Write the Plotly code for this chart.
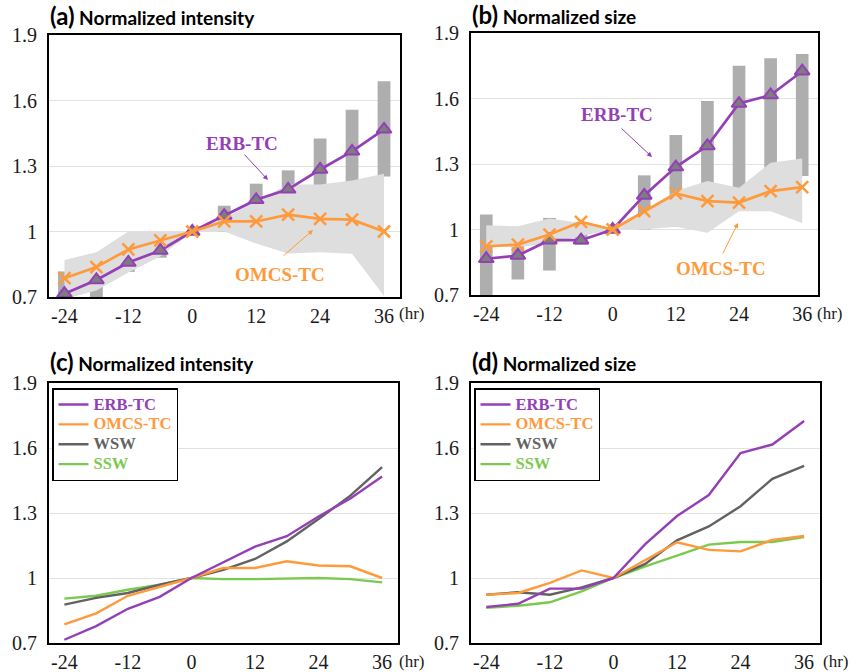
import plotly.graph_objects as go

hours = [-24, -18, -12, -6, 0, 6, 12, 18, 24, 30, 36]
tick_hours = [-24, -12, 0, 12, 24, 36]
tick_hour_labels = ["-24", "-12", "0", "12", "24", "36"]
y_ticks = [0.7, 1.0, 1.3, 1.6, 1.9]
y_tick_labels = ["0.7", "1", "1.3", "1.6", "1.9"]

# intensity
erb_int = [0.715, 0.778, 0.858, 0.913, 1.0, 1.073, 1.145, 1.193, 1.284, 1.367, 1.468]
omcs_int = [0.786, 0.837, 0.918, 0.959, 1.0, 1.046, 1.046, 1.077, 1.058, 1.054, 1.0]
wsw_int = [0.877, 0.908, 0.931, 0.969, 1.0, 1.038, 1.088, 1.169, 1.272, 1.38, 1.512]
ssw_int = [0.905, 0.918, 0.946, 0.969, 1.0, 0.995, 0.995, 0.997, 1.0, 0.995, 0.98]
erb_int_hi = [0.817, 0.85, 0.89, 0.965, 1.0, 1.118, 1.219, 1.28, 1.426, 1.558, 1.688]
erb_int_lo = [0.68, 0.69, 0.815, 0.88, 1.0, 1.0, 1.02, 1.09, 1.117, 1.196, 1.252]
omcs_int_hi = [0.87, 0.905, 1.0, 1.0, 1.0, 1.06, 1.14, 1.215, 1.215, 1.234, 1.264]
omcs_int_lo = [0.69, 0.73, 0.812, 0.886, 1.0, 1.0, 0.945, 0.899, 0.905, 0.898, 0.705]

# size
erb_size = [0.866, 0.881, 0.951, 0.951, 1.0, 1.156, 1.286, 1.383, 1.577, 1.616, 1.725]
omcs_size = [0.923, 0.931, 0.977, 1.035, 1.0, 1.084, 1.165, 1.130, 1.123, 1.176, 1.194]
wsw_size = [0.923, 0.934, 0.923, 0.957, 1.0, 1.065, 1.174, 1.238, 1.331, 1.458, 1.518]
ssw_size = [0.862, 0.872, 0.888, 0.938, 1.0, 1.054, 1.103, 1.154, 1.166, 1.166, 1.189]
erb_size_hi = [1.069, 1.0, 1.053, 1.0, 1.0, 1.248, 1.433, 1.589, 1.75, 1.784, 1.804]
erb_size_lo = [0.68, 0.771, 0.812, 0.93, 1.0, 1.0, 1.013, 1.11, 1.184, 1.198, 1.245]
omcs_size_hi = [1.02, 1.015, 1.05, 1.03, 1.0, 1.077, 1.176, 1.222, 1.191, 1.306, 1.325]
omcs_size_lo = [0.92, 0.92, 0.935, 0.97, 1.0, 1.0, 1.013, 0.985, 1.084, 1.084, 1.03]

PURPLE = "#9340B6"
ORANGE = "#FF9A3C"
GRAY = "#626262"
GREEN = "#7CC94F"
BAR = "#AEAEAE"
BAND = "#DEDEDE"

W, H = 850, 672


def px(x):
    return x / W


def py(y):
    return 1 - y / H


fig = go.Figure()

# ---------- panels (a) and (b) ----------
for xa, ya, erb, omcs, ehi, elo, ohi, olo in [
    ("x", "y", erb_int, omcs_int, erb_int_hi, erb_int_lo, omcs_int_hi, omcs_int_lo),
    ("x2", "y2", erb_size, omcs_size, erb_size_hi, erb_size_lo, omcs_size_hi, omcs_size_lo),
]:
    fig.add_trace(go.Scatter(x=hours, y=olo, mode="lines", line=dict(width=0),
                             xaxis=xa, yaxis=ya, showlegend=False, hoverinfo="skip"))
    fig.add_trace(go.Scatter(x=hours, y=ohi, mode="lines", line=dict(width=0),
                             fill="tonexty", fillcolor=BAND,
                             xaxis=xa, yaxis=ya, showlegend=False, hoverinfo="skip"))
    fig.add_trace(go.Bar(x=hours, y=[h - l for h, l in zip(ehi, elo)], base=elo,
                         width=2.4, marker=dict(color=BAR, line=dict(width=0)),
                         xaxis=xa, yaxis=ya, showlegend=False))
    fig.add_trace(go.Scatter(x=hours, y=erb, mode="lines+markers",
                             line=dict(color=PURPLE, width=2.7),
                             marker=dict(symbol="triangle-up", size=13, color="#7d7d7d",
                                         line=dict(color=PURPLE, width=2)),
                             xaxis=xa, yaxis=ya, showlegend=False))
    fig.add_trace(go.Scatter(x=hours, y=omcs, mode="lines+markers",
                             line=dict(color=ORANGE, width=2.7),
                             marker=dict(symbol="x-thin", size=12,
                                         line=dict(color=ORANGE, width=2.5)),
                             xaxis=xa, yaxis=ya, showlegend=False))

# ---------- panels (c) and (d) ----------
names = ["ERB-TC", "OMCS-TC", "WSW", "SSW"]
colors = [PURPLE, ORANGE, GRAY, GREEN]
for xa, ya, leg, series in [
    ("x3", "y3", "legend", [erb_int, omcs_int, wsw_int, ssw_int]),
    ("x4", "y4", "legend2", [erb_size, omcs_size, wsw_size, ssw_size]),
]:
    order = [3, 2, 1, 0]
    for i in order:
        fig.add_trace(go.Scatter(
            x=hours, y=series[i], mode="lines",
            line=dict(color=colors[i], width=2.4),
            name="<b><span style='color:%s;font-size:16.5px'>%s</span></b>" % (colors[i], names[i]),
            legend=leg, legendrank=i + 1,
            xaxis=xa, yaxis=ya))

# ---------- axes ----------
domains = {
    1: ([px(49), px(400)], [py(297), py(35)]),
    2: ([px(471), px(818)], [py(295), py(33)]),
    3: ([px(49), px(398)], [py(643), py(383)]),
    4: ([px(471), px(820)], [py(643), py(383)]),
}
tickfont = dict(family="Liberation Serif", size=20, color="#1a1a1a")
layout_axes = {}
for k, (dx, dy) in domains.items():
    sx = "" if k == 1 else str(k)
    layout_axes["xaxis" + sx] = dict(
        domain=dx, anchor="y" + sx, range=[-26.9, 39], tickvals=tick_hours,
        ticktext=tick_hour_labels, showgrid=False, zeroline=False,
        showline=True, mirror=True, linecolor="black", linewidth=2,
        ticks="", tickfont=tickfont, automargin=False, fixedrange=True)
    layout_axes["yaxis" + sx] = dict(
        domain=dy, anchor="x" + sx, range=[0.7, 1.9], tickvals=y_ticks,
        ticktext=y_tick_labels, showgrid=True, gridcolor="#E2E2E2", gridwidth=1,
        zeroline=False, showline=True, mirror=True, linecolor="black", linewidth=2,
        ticks="", tickfont=tickfont, ticklabelstandoff=6, automargin=False,
        fixedrange=True)

fig.update_layout(**layout_axes)

legend_style = dict(
    bgcolor="white", bordercolor="black", borderwidth=1.5,
    font=dict(family="Liberation Serif", size=13),
    xanchor="left", yanchor="top", tracegroupgap=0, itemwidth=30,
    traceorder="normal")
fig.update_layout(
    legend=dict(x=px(52), y=py(388), **legend_style),
    legend2=dict(x=px(474), y=py(388), **legend_style),
)

# ---------- annotations ----------
ann = []
titles = [("(a)", "Normalized intensity", 48, 32), ("(b)", "Normalized size", 470, 31),
          ("(c)", "Normalized intensity", 48, 378), ("(d)", "Normalized size", 470, 378)]
for tag, txt, x0, y0 in titles:
    ann.append(dict(
        text="<b><span style='font-size:24px'>%s</span> %s</b>" % (tag, txt),
        xref="paper", yref="paper", x=px(x0), y=py(y0), xanchor="left", yanchor="bottom",
        showarrow=False, font=dict(family="Lato", size=19, color="black")))

for x0, y0 in [(397, 313), (815, 313), (397, 661), (821, 661)]:
    ann.append(dict(text="(hr)", xref="paper", yref="paper", x=px(x0), y=py(y0),
                    xanchor="left", yanchor="middle", showarrow=False,
                    font=dict(family="Liberation Serif", size=17, color="#1a1a1a")))

labels = [
    ("ERB-TC", PURPLE, 242, 143, 268, 180, -25, -27),
    ("OMCS-TC", ORANGE, 280, 274, 313, 230, -31, 27),
    ("ERB-TC", PURPLE, 617, 115, 652, 157, -32, -30),
    ("OMCS-TC", ORANGE, 721, 268, 738, 223, -16, 32),
]
for txt, col, tx, ty, hx, hy, ax, ay in labels:
    ann.append(dict(text="<b>%s</b>" % txt, xref="paper", yref="paper",
                    x=px(tx), y=py(ty), xanchor="center", yanchor="middle",
                    showarrow=False,
                    font=dict(family="Liberation Serif", size=19, color=col)))
    ann.append(dict(text="", xref="paper", yref="paper", x=px(hx), y=py(hy),
                    ax=ax, ay=ay, showarrow=True, arrowhead=2, arrowsize=1,
                    arrowwidth=1, arrowcolor=col))

fig.update_layout(
    annotations=ann,
    width=W, height=H, margin=dict(l=0, r=0, t=0, b=0, autoexpand=False),
    paper_bgcolor="white", plot_bgcolor="white",
    barmode="overlay", showlegend=True,
)

fig.write_html("out.html", config={"displayModeBar": False},
               post_script="document.body.style.margin='0';")
